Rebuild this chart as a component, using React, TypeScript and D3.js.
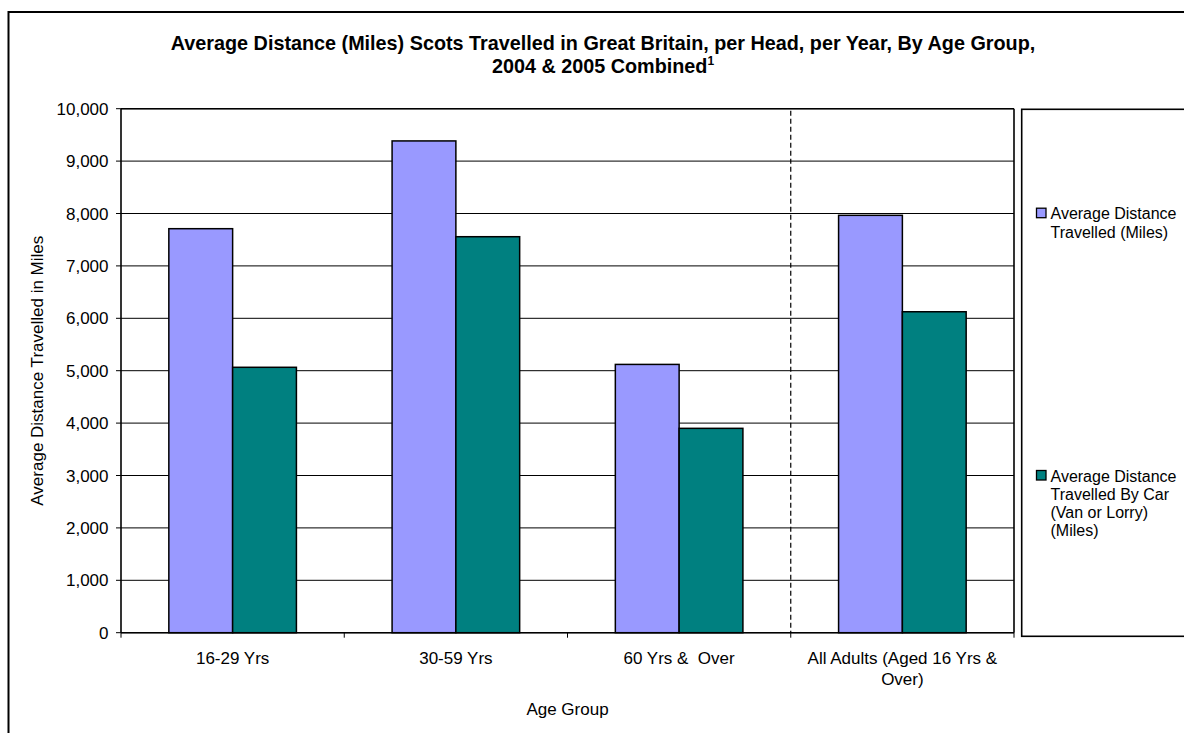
import React from "react";
import * as d3 from "d3";

const categories = ["16-29 Yrs", "30-59 Yrs", "60 Yrs &  Over", "All Adults (Aged 16 Yrs & Over)"];
const categoryLines = [["16-29 Yrs"], ["30-59 Yrs"], ["60 Yrs &  Over"], ["All Adults (Aged 16 Yrs &", "Over)"]];
const seriesNames = ["Average Distance Travelled (Miles)", "Average Distance Travelled By Car (Van or Lorry) (Miles)"];
const legendLines = [["Average Distance", "Travelled (Miles)"], ["Average Distance", "Travelled By Car", "(Van or Lorry)", "(Miles)"]];
const totalMiles = [7710, 9385, 5120, 7965];
const carMiles = [5065, 7557, 3900, 6125];
const yTicks = [0, 1000, 2000, 3000, 4000, 5000, 6000, 7000, 8000, 9000, 10000];
const colors = ["#9999FF", "#008080"];

const FONT = "'Liberation Sans', Arial, sans-serif";

export default function App() {
  const L = 121, R = 1014, T = 108.7, B = 632.7;
  const x0 = d3.scaleBand<string>().domain(categories).range([L, R]).paddingInner(0).paddingOuter(0);
  const bw = x0.bandwidth();
  const x1 = d3.scaleBand<string>().domain(seriesNames).range([(bw * 0.75) / 3.5, (bw * 2.75) / 3.5]);
  const y = d3.scaleLinear().domain([0, 10000]).range([B, T]);
  const fmt = d3.format(",");
  const seriesValues = [totalMiles, carMiles];
  const boundaries = [...categories.map((c) => x0(c) as number), R];
  const lastStart = x0(categories[categories.length - 1]) as number;

  return (
    <svg width={1184} height={733} style={{ position: "absolute", left: 0, top: 0, background: "#fff" }} fontFamily={FONT}>
      <rect x={0} y={0} width={1184} height={733} fill="#fff" />
      {/* outer chart border */}
      <rect x={8.5} y={12} width={1300} height={900} fill="none" stroke="#000" strokeWidth={2} />
      {/* title */}
      <text x={603} y={50} textAnchor="middle" fontWeight="bold" fontSize={19.8} fill="#000">
        Average Distance (Miles) Scots Travelled in Great Britain, per Head, per Year, By Age Group,
      </text>
      <text x={603} y={73} textAnchor="middle" fontWeight="bold" fontSize={19.8} fill="#000">
        2004 &amp; 2005 Combined
        <tspan fontSize={12} dy={-8}>1</tspan>
      </text>
      {/* gridlines */}
      {yTicks.map((t) => (
        <line key={"g" + t} x1={L} x2={R} y1={y(t)} y2={y(t)} stroke="#000" strokeWidth={1} />
      ))}
      {/* dashed separator */}
      <line x1={lastStart} x2={lastStart} y1={T + 2} y2={B} stroke="#000" strokeWidth={1.2} strokeDasharray="5,3" />
      {/* bars */}
      {seriesNames.map((s, si) =>
        categories.map((c, ci) => {
          const v = seriesValues[si][ci];
          const bx = (x0(c) as number) + (x1(s) as number);
          return (
            <rect
              key={s + c}
              x={bx}
              y={y(v)}
              width={x1.bandwidth()}
              height={B - y(v)}
              fill={colors[si]}
              stroke="#000"
              strokeWidth={1.5}
            />
          );
        })
      )}
      {/* plot border */}
      <line x1={L} x2={R} y1={T} y2={T} stroke="#000" strokeWidth={1.6} />
      <line x1={R} x2={R} y1={T} y2={B} stroke="#000" strokeWidth={1.6} />
      {/* axes */}
      <line x1={L} x2={L} y1={T} y2={B} stroke="#000" strokeWidth={1.6} />
      <line x1={L} x2={R} y1={B} y2={B} stroke="#000" strokeWidth={1.6} />
      {yTicks.map((t) => (
        <g key={"yt" + t}>
          <line x1={L - 5} x2={L} y1={y(t)} y2={y(t)} stroke="#000" strokeWidth={1} />
          <text x={108.5} y={y(t)} dy="0.36em" textAnchor="end" fontSize={17} fill="#000">
            {fmt(t)}
          </text>
        </g>
      ))}
      {boundaries.map((bx, i) => (
        <line key={"xt" + i} x1={bx} x2={bx} y1={B} y2={B + 5} stroke="#000" strokeWidth={1} />
      ))}
      {categories.map((c, ci) => (
        <text key={"xl" + c} textAnchor="middle" fontSize={17} fill="#000" style={{ whiteSpace: "pre" }}>
          {categoryLines[ci].map((ln, li) => (
            <tspan key={li} x={(x0(c) as number) + bw / 2} y={664 + li * 20.5}>
              {ln}
            </tspan>
          ))}
        </text>
      ))}
      {/* axis titles */}
      <text x={(L + R) / 2} y={715} textAnchor="middle" fontSize={17} fill="#000">
        Age Group
      </text>
      <text transform={`translate(42.5, ${(T + B) / 2}) rotate(-90)`} textAnchor="middle" fontSize={17} fill="#000">
        Average Distance Travelled in Miles
      </text>
      {/* legend */}
      <rect x={1021.7} y={109.3} width={400} height={527} fill="#fff" stroke="#000" strokeWidth={1.6} />
      {seriesNames.map((s, si) => {
        const top = si === 0 ? 207.7 : 470;
        return (
          <g key={"lg" + s}>
            <rect x={1036.5} y={top + 0.5} width={9.5} height={9.5} fill={colors[si]} stroke="#000" strokeWidth={1.3} />
            <text fontSize={16} fill="#000">
              {legendLines[si].map((ln, li) => (
                <tspan key={li} x={1050.5} y={top + 11.5 + li * 18.3}>
                  {ln}
                </tspan>
              ))}
            </text>
          </g>
        );
      })}
    </svg>
  );
}
